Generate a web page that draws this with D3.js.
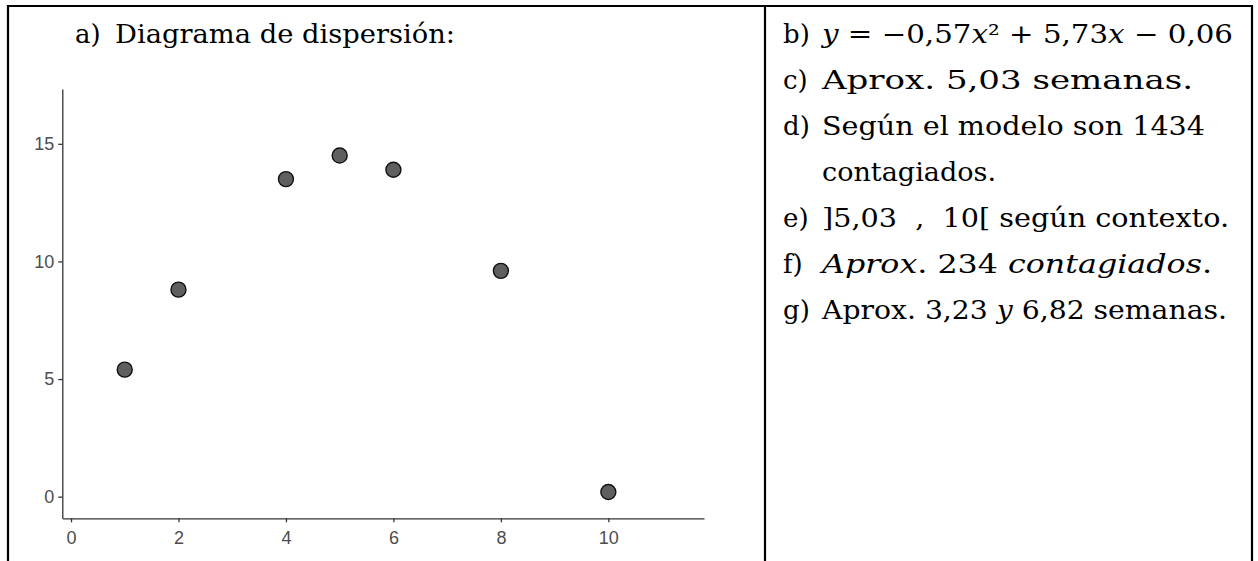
<!DOCTYPE html>
<html>
<head>
<meta charset="utf-8">
<script src="https://cdn.jsdelivr.net/npm/d3@7"></script>
<style>
  html, body { margin: 0; padding: 0; background: #fff; }
  svg { display: block; }
</style>
</head>
<body>
<svg id="chart" width="1258" height="561"></svg>
<script>
// ---- data ----
const weeks = [1, 2, 4, 5, 6, 8, 10];
const infected = [5.4, 8.8, 13.5, 14.5, 13.9, 9.6, 0.2];
const xTicks = [0, 2, 4, 6, 8, 10];
const yTicks = [0, 5, 10, 15];
const panelTitle = ["a)", "Diagrama de dispersión:"];
const answerLabels = ["b)", "c)", "d)", "", "e)", "f)", "g)"];
// each answer line: list of [text, italic?]
const answerLines = [
  [["y", 1], [" = −0,57", 0], ["x", 1], ["²", 0], [" + 5,73", 0], ["x", 1], [" − 0,06", 0]],
  [["Aprox. 5,03 semanas.", 0]],
  [["Según el modelo son 1434", 0]],
  [["contagiados.", 0]],
  [["]5,03  ,  10[ según contexto.", 0]],
  [["Aprox", 1], [". 234 ", 0], ["contagiados", 1], [".", 0]],
  [["Aprox. 3,23 ", 0], ["y", 1], [" 6,82 semanas.", 0]]
];
const answerWidths = [411, 371, 383, 174, 407, 390, 405];

const svg = d3.select("#chart");
const serif = "'DejaVu Serif', 'Liberation Serif', serif";
const fs = 26;

// ---- table borders ----
const border = svg.append("g").attr("stroke", "#000").attr("stroke-width", 2.2);
border.append("line").attr("x1", 8).attr("x2", 8).attr("y1", 5).attr("y2", 561);
border.append("line").attr("x1", 7).attr("x2", 1253).attr("y1", 6).attr("y2", 6);
border.append("line").attr("x1", 765).attr("x2", 765).attr("y1", 5).attr("y2", 561);
border.append("line").attr("x1", 1252).attr("x2", 1252).attr("y1", 5).attr("y2", 561);

// ---- title ----
svg.append("text").attr("x", 75).attr("y", 43)
  .attr("font-family", serif).attr("font-size", fs).text(panelTitle[0]);
svg.append("text").attr("x", 115).attr("y", 43)
  .attr("font-family", serif).attr("font-size", fs)
  .attr("textLength", 340).attr("lengthAdjust", "spacingAndGlyphs")
  .text(panelTitle[1]);

// ---- scatter plot ----
const x = d3.scaleLinear().domain([-0.162, 11.78]).range([62.3, 704]);
const y = d3.scaleLinear().domain([-0.92, 17.33]).range([518.3, 89]);

const xAxis = d3.axisBottom(x).tickValues(xTicks).tickSize(4).tickSizeOuter(0).tickPadding(9);
const yAxis = d3.axisLeft(y).tickValues(yTicks).tickSize(4).tickSizeOuter(0).tickPadding(4);

const gx = svg.append("g").attr("transform", `translate(0,${y.range()[0]})`).call(xAxis);
const gy = svg.append("g").attr("transform", `translate(${x.range()[0]},0)`).call(yAxis);
[gx, gy].forEach(g => {
  g.select(".domain").attr("stroke", "#333").attr("stroke-width", 1.3);
  g.selectAll(".tick line").attr("stroke", "#333").attr("stroke-width", 1.3);
  g.selectAll(".tick text").attr("fill", "#4d4d4d")
    .attr("font-family", "'Liberation Sans', Arial, sans-serif").attr("font-size", 18);
});

svg.append("g").selectAll("circle")
  .data(weeks.map((w, i) => ({ w, v: infected[i] })))
  .join("circle")
  .attr("cx", d => x(d.w)).attr("cy", d => y(d.v)).attr("r", 7.5)
  .attr("fill", "#5f5f5f").attr("stroke", "#111").attr("stroke-width", 1.4);

// ---- answers ----
const baselines = d3.range(answerLines.length).map(i => 43 + i * 46);
answerLines.forEach((parts, i) => {
  if (answerLabels[i]) {
    svg.append("text").attr("x", 783).attr("y", baselines[i])
      .attr("font-family", serif).attr("font-size", fs).text(answerLabels[i]);
  }
  const t = svg.append("text").attr("x", 822).attr("y", baselines[i])
    .attr("font-family", serif).attr("font-size", fs)
    .attr("textLength", answerWidths[i]).attr("lengthAdjust", "spacingAndGlyphs")
    .attr("xml:space", "preserve").style("white-space", "pre");
  parts.forEach(([s, it]) => {
    t.append("tspan").text(s).attr("font-style", it ? "italic" : "normal");
  });
});
</script>
</body>
</html>
